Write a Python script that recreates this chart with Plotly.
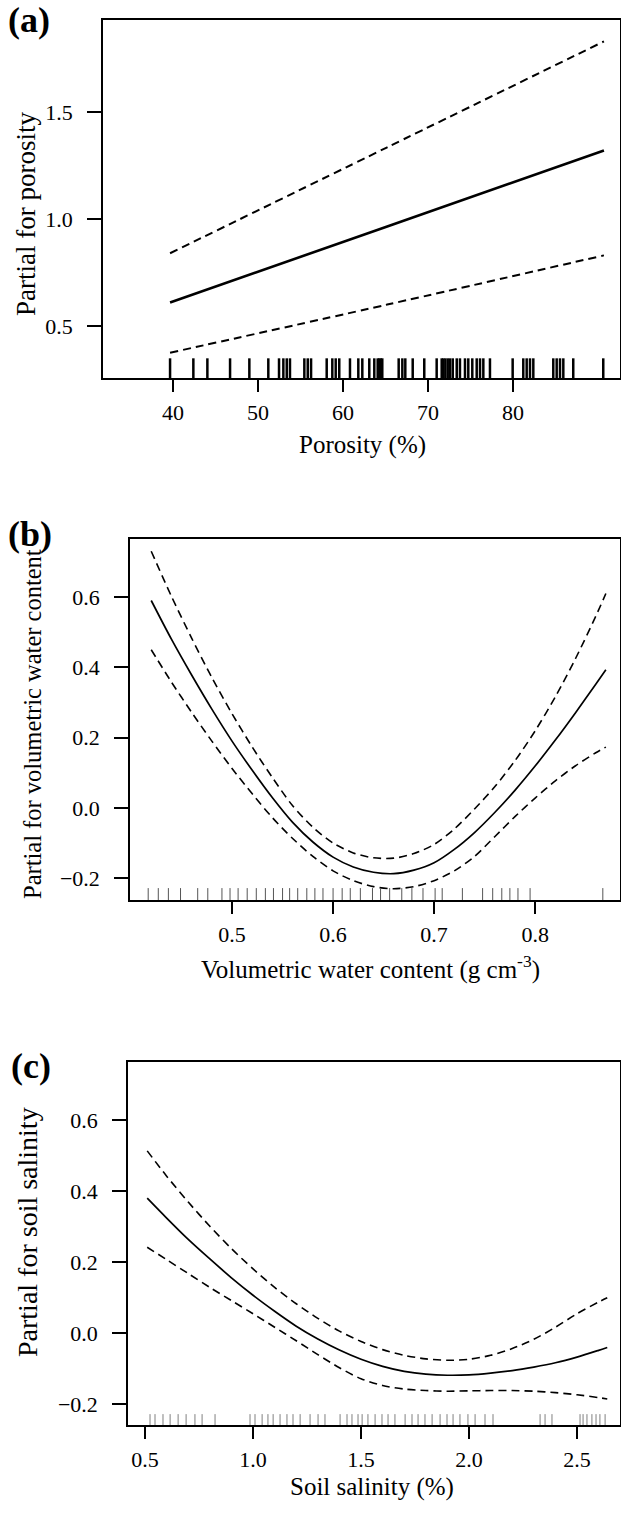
import plotly.graph_objects as go

# ---------------- data ----------------
# Panel (a): porosity
a_x = [39.65, 65.2, 90.7]
a_fit = [0.61, 0.965, 1.32]
a_upper = [0.84, 1.335, 1.83]
a_lower = [0.375, 0.60, 0.83]
a_rug = [39.65, 42.39, 44.04, 46.71, 48.98, 51.21, 52.47, 52.98, 53.38, 53.76, 55.45, 55.85,
         56.24, 58.08, 58.74, 59.14, 59.56, 60.82, 61.80, 62.27, 63.09, 63.68, 64.08, 64.27,
         64.44, 64.62, 66.55, 66.98, 67.33, 68.20, 69.56, 71.02, 71.61, 71.80, 72.04, 72.32,
         72.59, 72.91, 73.38, 73.76, 74.35, 74.74, 75.21, 75.73, 76.12, 76.51, 77.29, 79.96,
         81.21, 81.61, 82.00, 82.39, 84.74, 85.14, 85.53, 85.92, 87.09, 90.62]
a_xticks = [40, 50, 60, 70, 80]
a_yticks = [0.5, 1.0, 1.5]

# Panel (b): volumetric water content
b_x = [0.42, 0.44, 0.46, 0.48, 0.50, 0.52, 0.54, 0.56, 0.58, 0.60, 0.62, 0.64, 0.66, 0.68,
       0.70, 0.72, 0.74, 0.76, 0.78, 0.80, 0.82, 0.84, 0.86, 0.87]
b_fit = [0.59, 0.48, 0.378, 0.281, 0.19, 0.107, 0.029, -0.041, -0.097, -0.14, -0.168,
         -0.183, -0.187, -0.177, -0.156, -0.118, -0.07, -0.013, 0.050, 0.119, 0.193, 0.271,
         0.352, 0.393]
b_upper = [0.73, 0.602, 0.483, 0.371, 0.268, 0.173, 0.086, 0.006, -0.055, -0.100, -0.128,
           -0.142, -0.143, -0.130, -0.104, -0.060, -0.003, 0.060, 0.134, 0.219, 0.316, 0.425,
           0.545, 0.61]
b_lower = [0.45, 0.358, 0.272, 0.190, 0.112, 0.040, -0.028, -0.087, -0.138, -0.179, -0.207,
           -0.224, -0.230, -0.224, -0.207, -0.179, -0.138, -0.082, -0.025, 0.028, 0.077, 0.120,
           0.157, 0.173]
b_rug = [0.417, 0.427, 0.437, 0.449, 0.466, 0.476, 0.490, 0.498, 0.506, 0.515, 0.524, 0.533,
         0.541, 0.550, 0.557, 0.565, 0.574, 0.582, 0.590, 0.600, 0.609, 0.617, 0.627, 0.639,
         0.647, 0.656, 0.668, 0.678, 0.689, 0.701, 0.708, 0.728, 0.748, 0.758, 0.767, 0.775,
         0.783, 0.795, 0.867]
b_xticks = [0.5, 0.6, 0.7, 0.8]
b_yticks = [-0.2, 0.0, 0.2, 0.4, 0.6]

# Panel (c): soil salinity
c_x = [0.51, 0.6, 0.7, 0.8, 0.9, 1.0, 1.1, 1.2, 1.3, 1.4, 1.5, 1.6, 1.7, 1.8, 1.9, 2.0,
       2.1, 2.2, 2.3, 2.4, 2.5, 2.6, 2.64]
c_fit = [0.38, 0.324, 0.264, 0.209, 0.156, 0.107, 0.062, 0.020, -0.016, -0.047, -0.073,
         -0.093, -0.107, -0.115, -0.118, -0.117, -0.112, -0.105, -0.095, -0.083, -0.067,
         -0.048, -0.04]
c_upper = [0.513, 0.442, 0.369, 0.301, 0.238, 0.181, 0.129, 0.083, 0.042, 0.006, -0.023,
           -0.046, -0.062, -0.072, -0.076, -0.073, -0.062, -0.043, -0.017, 0.017, 0.055,
           0.088, 0.10]
c_lower = [0.242, 0.207, 0.168, 0.129, 0.092, 0.055, 0.017, -0.021, -0.060, -0.097, -0.128,
           -0.147, -0.157, -0.161, -0.163, -0.162, -0.161, -0.161, -0.163, -0.167, -0.173,
           -0.181, -0.185]
c_rug = [0.523, 0.546, 0.583, 0.616, 0.653, 0.690, 0.731, 0.764, 0.824, 0.986, 1.009, 1.042,
         1.069, 1.093, 1.125, 1.157, 1.185, 1.218, 1.264, 1.301, 1.333, 1.403, 1.435, 1.458,
         1.486, 1.505, 1.532, 1.565, 1.597, 1.625, 1.657, 1.704, 1.736, 1.764, 1.796, 1.829,
         1.866, 1.898, 1.926, 1.958, 1.995, 2.028, 2.074, 2.111, 2.329, 2.352, 2.384, 2.514,
         2.528, 2.546, 2.569, 2.588, 2.606, 2.630]
c_xticks = [0.5, 1.0, 1.5, 2.0, 2.5]
c_yticks = [-0.2, 0.0, 0.2, 0.4, 0.6]

# ---------------- layout helpers ----------------
W, H = 621, 1535
FONT = "Liberation Serif, Times New Roman, serif"


def fx(p):
    return p / W


def fy(p):
    return 1 - p / H


fig = go.Figure()

panels = [
    dict(n="", x=a_x, fit=a_fit, up=a_upper, lo=a_lower, rug=a_rug,
         xt=a_xticks, yt=a_yticks, left=103, top=20, bottom=378,
         xr=[31.76, 92.59], yr=[0.257, 1.930], rugh=0.055, rugw=2.5, rugc="black",
         lw=2.6, dw=2.0),
    dict(n="2", x=b_x, fit=b_fit, up=b_upper, lo=b_lower, rug=b_rug,
         xt=b_xticks, yt=b_yticks, left=130, top=539, bottom=900,
         xr=[0.399, 0.884], yr=[-0.262, 0.765], rugh=0.033, rugw=1, rugc="#555555",
         lw=1.7, dw=1.6),
    dict(n="3", x=c_x, fit=c_fit, up=c_upper, lo=c_lower, rug=c_rug,
         xt=c_xticks, yt=c_yticks, left=128, top=1062, bottom=1425,
         xr=[0.421, 2.699], yr=[-0.258, 0.763], rugh=0.03, rugw=1, rugc="#808080",
         lw=1.7, dw=1.6),
]

shapes = []
for p in panels:
    xa = "x" + p["n"]
    ya = "y" + p["n"]
    fig.add_trace(go.Scatter(x=p["x"], y=p["fit"], mode="lines", xaxis=xa, yaxis=ya,
                             line=dict(color="black", width=p["lw"], shape="spline", smoothing=0.8),
                             showlegend=False, hoverinfo="skip"))
    for band in ("up", "lo"):
        fig.add_trace(go.Scatter(x=p["x"], y=p[band], mode="lines", xaxis=xa, yaxis=ya,
                                 line=dict(color="black", width=p["dw"], dash="8px,5px",
                                           shape="spline", smoothing=0.8),
                                 showlegend=False, hoverinfo="skip"))
    for v in p["rug"]:
        shapes.append(dict(type="line", xref=xa, yref=ya + " domain", x0=v, x1=v,
                           y0=0, y1=p["rugh"], line=dict(color=p["rugc"], width=p["rugw"])))

    axis_common = dict(showline=True, mirror=True, linecolor="black", linewidth=1.5,
                       ticks="outside", tickwidth=1.5, tickcolor="black",
                       showgrid=False, zeroline=False,
                       tickfont=dict(family=FONT, size=22, color="black"))
    fig.update_layout(**{
        ("xaxis" + p["n"]): dict(domain=[fx(p["left"]), fx(620)], range=p["xr"],
                                  tickmode="array", tickvals=p["xt"],
                                  ticktext=[f"{t:g}" if p["n"] == "" else f"{t:.1f}" for t in p["xt"]],
                                  anchor=ya, ticklen=12, ticklabelstandoff=2, **axis_common),
        ("yaxis" + p["n"]): dict(domain=[fy(p["bottom"]), fy(p["top"])], range=p["yr"],
                                  tickmode="array", tickvals=p["yt"],
                                  ticktext=[f"{t:.1f}".replace("-", "\u2212") for t in p["yt"]],
                                  anchor=xa, ticklen=14, ticklabelstandoff=10, **axis_common),
    })

ann = []


def add_text(text, x, y, size, angle=0, bold=False):
    ann.append(dict(text=("<b>" + text + "</b>") if bold else text, xref="paper", yref="paper",
                    x=fx(x), y=fy(y), xanchor="center", yanchor="middle", showarrow=False,
                    textangle=angle, font=dict(family=FONT, size=size, color="black")))


add_text("(a)", 29, 20, 36, bold=True)
add_text("(b)", 30, 534, 36, bold=True)
add_text("(c)", 31, 1066, 36, bold=True)
add_text("Porosity (%)", 362, 445, 25)
add_text("Volumetric water content (g cm<sup>-3</sup>)", 370, 967, 25)
add_text("Soil salinity (%)", 372, 1487, 25)
add_text("Partial for porosity", 26, 214, 27, angle=-90)
add_text("Partial for volumetric water content", 33, 724, 24.5, angle=-90)
add_text("Partial for soil salinity", 27, 1232, 28, angle=-90)

fig.update_layout(width=W, height=H, margin=dict(l=0, r=0, t=0, b=0),
                  paper_bgcolor="white", plot_bgcolor="white",
                  shapes=shapes, annotations=ann, showlegend=False)

fig.write_html("out.html")
